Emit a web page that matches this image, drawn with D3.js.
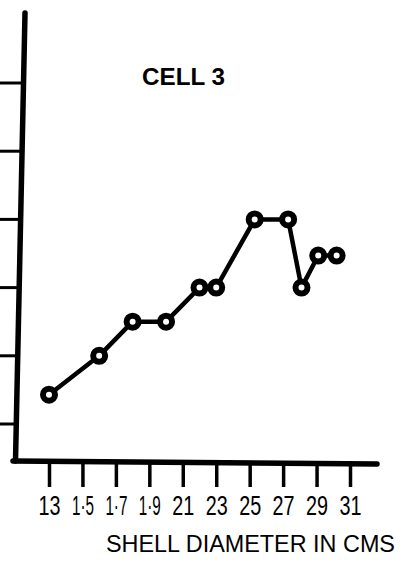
<!DOCTYPE html>
<html>
<head>
<meta charset="utf-8">
<script src="https://cdn.jsdelivr.net/npm/d3@7"></script>
<style>
  html, body { margin: 0; padding: 0; background: #fff; }
  svg { display: block; }
</style>
</head>
<body>
<svg id="chart" width="404" height="563"></svg>
<script>
// ---- data ----
const diameters = [1.3, 1.6, 1.8, 2.0, 2.2, 2.3, 2.53, 2.73, 2.81, 2.91, 3.02];
const values    = [1.43, 2.0, 2.5, 2.5, 3.0, 3.0, 4.0, 4.0, 3.0, 3.47, 3.47];
const xTickValues = [1.3, 1.5, 1.7, 1.9, 2.1, 2.3, 2.5, 2.7, 2.9, 3.1];
const xTickLabels = ["13", "1·5", "1·7", "1·9", "21", "23", "25", "27", "29", "31"];
const yTickValues = [1, 2, 3, 4, 5, 6];
const title = "CELL 3";
const xTitle = "SHELL DIAMETER IN CMS";

const svg = d3.select("#chart");
const ink = "#000";

const x = d3.scaleLinear().domain([1.3, 3.1]).range([49, 350]);
const y = d3.scaleLinear().domain([1, 6]).range([424, 83]);

// slightly tilted hand-drawn y axis: x position depends on height
const axisX = d3.scaleLinear().domain([460, 13]).range([15.5, 25]);

// y axis line
svg.append("line")
  .attr("x1", axisX(460)).attr("y1", 461)
  .attr("x2", axisX(13)).attr("y2", 13)
  .attr("stroke", ink).attr("stroke-width", 5.5).attr("stroke-linecap", "round");

// y ticks (outward, to the left edge)
svg.append("g").selectAll("line").data(yTickValues).join("line")
  .attr("x1", 0).attr("x2", d => axisX(y(d)))
  .attr("y1", d => y(d)).attr("y2", d => y(d))
  .attr("stroke", ink).attr("stroke-width", 3);

// x axis line
svg.append("line")
  .attr("x1", 13).attr("y1", 461).attr("x2", 377).attr("y2", 464)
  .attr("stroke", ink).attr("stroke-width", 5.5).attr("stroke-linecap", "round");

// x axis ticks + labels via d3 axis
const xAxis = d3.axisBottom(x)
  .tickValues(xTickValues)
  .tickSize(24)
  .tickPadding(6)
  .tickFormat((d, i) => xTickLabels[i]);

const gx = svg.append("g").attr("transform", "translate(0,463)").call(xAxis);
gx.select(".domain").remove();
gx.selectAll(".tick line").attr("stroke", ink).attr("stroke-width", 3.5);
gx.selectAll(".tick text")
  .attr("fill", ink)
  .attr("x", -11)
  .attr("y", 52 / 1.3).attr("dy", 0)
  .attr("transform", "scale(1,1.3)")
  .attr("text-anchor", "start")
  .attr("textLength", 22)
  .attr("lengthAdjust", "spacingAndGlyphs")
  .style("font-family", "'Liberation Sans', Arial, sans-serif")
  .style("font-size", "21px");

// series line
const line = d3.line().x((d, i) => x(diameters[i])).y(d => y(d));
svg.append("path")
  .datum(values)
  .attr("d", line)
  .attr("fill", "none")
  .attr("stroke", ink)
  .attr("stroke-width", 4.5)
  .attr("stroke-linejoin", "round");

// markers
svg.append("g").selectAll("circle").data(values).join("circle")
  .attr("cx", (d, i) => x(diameters[i]))
  .attr("cy", d => y(d))
  .attr("r", 6)
  .attr("fill", "#fff")
  .attr("stroke", ink)
  .attr("stroke-width", 6);

// title
svg.append("text")
  .attr("x", 142).attr("y", 85)
  .attr("textLength", 83).attr("lengthAdjust", "spacingAndGlyphs")
  .style("font-family", "'Liberation Sans', Arial, sans-serif")
  .style("font-weight", "bold")
  .style("font-size", "23px")
  .attr("fill", ink)
  .text(title);

// x axis title
svg.append("text")
  .attr("x", 106).attr("y", 552)
  .style("font-family", "'Liberation Sans', Arial, sans-serif")
  .style("font-size", "23.4px")
  .attr("fill", ink)
  .text(xTitle);
</script>
</body>
</html>
